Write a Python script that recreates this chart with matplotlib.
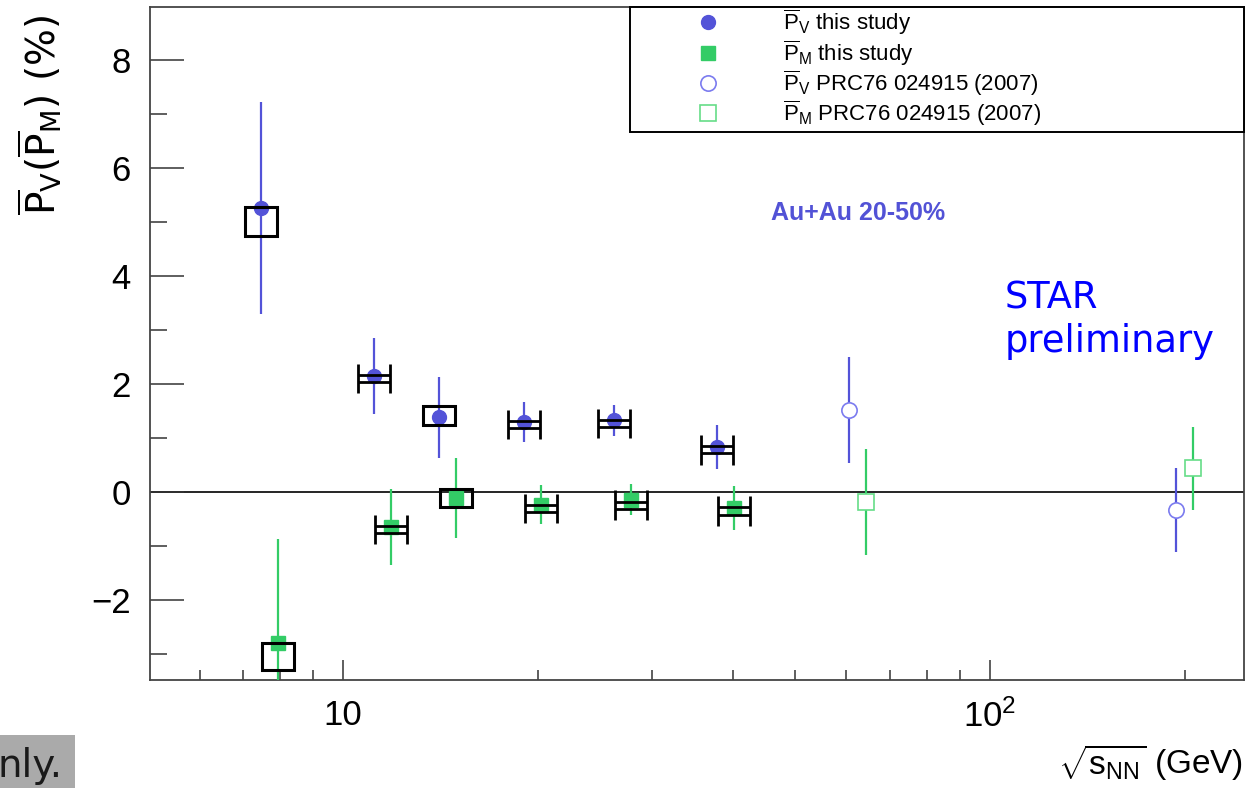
import matplotlib
matplotlib.use("Agg")
import matplotlib.pyplot as plt
from matplotlib.patches import Rectangle
from matplotlib.ticker import MultipleLocator, NullFormatter, FixedLocator


# ---------------- DATA ----------------

energies = [7.7, 11.5, 14.5, 19.6, 27, 39]

pv = [5.26, 2.15, 1.39, 1.30, 1.33, 0.84]
pv_err = [1.96, 0.70, 0.75, 0.37, 0.29, 0.41]
pv_sys_mid = [5.01, 2.10, 1.42, 1.25, 1.27, 0.78]
pv_sys = [0.26, 0.065, 0.18, 0.065, 0.065, 0.065]

pm = [-2.80, -0.65, -0.11, -0.23, -0.14, -0.30]
pm_err = [1.94, 0.70, 0.74, 0.36, 0.29, 0.41]
pm_sys_mid = [-3.05, -0.70, -0.11, -0.31, -0.24, -0.35]
pm_sys = [0.25, 0.065, 0.17, 0.065, 0.065, 0.065]

sys_kind = ["box", "bracket", "box", "bracket", "bracket", "bracket"]

prc_energies = [62.4, 200]
prc_pv = [1.52, -0.33]
prc_pv_err = [0.99, 0.77]
prc_pm = [-0.19, 0.44]
prc_pm_err = [0.98, 0.77]

legend_labels = [
    r"$\overline{\mathrm{P}}_{\mathrm{V}}$ this study",
    r"$\overline{\mathrm{P}}_{\mathrm{M}}$ this study",
    r"$\overline{\mathrm{P}}_{\mathrm{V}}$ PRC76 024915 (2007)",
    r"$\overline{\mathrm{P}}_{\mathrm{M}}$ PRC76 024915 (2007)",
]


# ---------------- STYLE ----------------

plt.rcParams["font.family"] = ["Liberation Sans", "DejaVu Sans"]
plt.rcParams["mathtext.fontset"] = "custom"
plt.rcParams["mathtext.rm"] = "Liberation Sans"
plt.rcParams["mathtext.it"] = "Liberation Sans:italic"
plt.rcParams["mathtext.bf"] = "Liberation Sans:bold"

blue = "#5353d8"
green = "#33cc66"
blue_open = "#7b7bef"
green_open = "#66dd88"

shift = 1.031      # left/right offset of the two series
half_w = 1.0586    # half width of the systematic boxes (log factor)
cap_h = 0.27


# ---------------- FIGURE ----------------

fig = plt.figure(figsize=(12.51, 7.88), dpi=100)
ax = fig.add_axes([0.1199, 0.137, 0.8745, 0.854])

ax.set_xscale("log")
ax.set_xlim(5.03, 247)
ax.set_ylim(-3.48, 8.98)

ax.axhline(0, color="black", lw=1.2, zorder=1)

x_pv = [e / shift for e in energies]
x_pm = [e * shift for e in energies]

ax.errorbar(x_pv, pv, yerr=pv_err, fmt="o", color=blue, ms=10,
            elinewidth=1.6, capsize=0, zorder=3)
ax.errorbar(x_pm, pm, yerr=pm_err, fmt="s", color=green, ms=10,
            elinewidth=1.6, capsize=0, zorder=3)

x_prc_pv = [e / shift for e in prc_energies]
x_prc_pm = [e * shift for e in prc_energies]

ax.errorbar(x_prc_pv, prc_pv, yerr=prc_pv_err, fmt="o", color=blue,
            mfc="white", mec=blue_open, mew=1.2, ms=11,
            elinewidth=1.6, capsize=0, zorder=3)
ax.errorbar(x_prc_pm, prc_pm, yerr=prc_pm_err, fmt="s", color=green,
            mfc="white", mec=green_open, mew=1.2, ms=11,
            elinewidth=1.6, capsize=0, zorder=3)


# ---------------- SYSTEMATICS ----------------

def draw_sys(xs, mids, sys):
    for x, m, s, kind in zip(xs, mids, sys, sys_kind):
        x0 = x / half_w
        x1 = x * half_w
        if kind == "box":
            ax.add_patch(Rectangle((x0, m - s), x1 - x0, 2 * s,
                                   fill=False, ec="black", lw=2.2, zorder=4))
        else:
            ax.hlines([m - s, m + s], x0, x1, color="black", lw=2.0, zorder=4)
            ax.vlines([x0, x1], m - cap_h, m + cap_h, color="black", lw=2.0, zorder=4)


draw_sys(x_pv, pv_sys_mid, pv_sys)
draw_sys(x_pm, pm_sys_mid, pm_sys)


# ---------------- AXES ----------------

ax.xaxis.set_major_locator(FixedLocator([10, 100]))
ax.set_xticklabels(["10", r"$10^2$"])
ax.xaxis.set_minor_formatter(NullFormatter())

ax.yaxis.set_major_locator(MultipleLocator(2))
ax.yaxis.set_minor_locator(MultipleLocator(1))

ax.tick_params(axis="x", which="major", direction="in", length=14.4, width=1.1,
               pad=14, labelsize=25, color="#333333")
ax.tick_params(axis="x", which="minor", direction="in", length=7.2, width=1.1,
               color="#333333")
ax.tick_params(axis="y", which="major", direction="in", length=24.5, width=1.1,
               pad=14, labelsize=25, color="#333333")
ax.tick_params(axis="y", which="minor", direction="in", length=12.2, width=1.1,
               color="#333333")

for side in ["left", "bottom", "top", "right"]:
    ax.spines[side].set_color("#444444")
    ax.spines[side].set_linewidth(1.3)


# ---------------- LEGEND ----------------

ax.add_patch(Rectangle((0.4388, 0.814), 0.5612, 0.186, transform=ax.transAxes,
                       fc="white", ec="black", lw=1.4, zorder=5, clip_on=False))

legend_style = [
    dict(marker="o", color=blue, ms=10),
    dict(marker="s", color=green, ms=10),
    dict(marker="o", mfc="white", mec=blue_open, mew=1.2, ms=11),
    dict(marker="s", mfc="white", mec=green_open, mew=1.2, ms=11),
]
row_y = [0.9777, 0.9316, 0.8871, 0.8425]

for label, style, y in zip(legend_labels, legend_style, row_y):
    ax.plot([0.510], [y], transform=ax.transAxes, ls="none", zorder=6,
            clip_on=False, **style)
    ax.text(0.5786, y, label, transform=ax.transAxes, fontsize=16,
            va="center", ha="left", zorder=6)


# ---------------- TEXT ----------------

ax.text(0.6472, 0.683, "Au+Au 20-50%", transform=ax.transAxes, fontsize=18,
        fontweight="bold", color="#5252d6", ha="center", va="baseline")

ax.text(0.7815, 0.5527, "STAR", transform=ax.transAxes, fontsize=26.5,
        family="DejaVu Sans", color="#0000ff", ha="left", va="baseline")
ax.text(0.7815, 0.4874, "preliminary", transform=ax.transAxes, fontsize=26.5,
        family="DejaVu Sans", color="#0000ff", ha="left", va="baseline")

fig.text(0.012, 0.854,
         r"$\overline{\mathrm{P}}_{\mathrm{V}}(\overline{\mathrm{P}}_{\mathrm{M}})$ (%)",
         rotation=90, fontsize=28, family="DejaVu Sans", math_fontfamily="dejavusans",
         ha="left", va="center")

fig.text(0.9936, 0.006, r"$\sqrt{\mathrm{s}_{\mathrm{NN}}}$ (GeV)", fontsize=24,
         ha="right", va="bottom")

fig.patches.append(Rectangle((0, 0), 75 / 1251, 53 / 788, transform=fig.transFigure,
                             fc="#aaaaaa", ec="none", figure=fig))
fig.text(-0.002, 0.014, "nly.", fontsize=28, family="DejaVu Sans", color="#1a1a1a",
         ha="left", va="baseline")

fig.savefig("out.png", dpi=100)
